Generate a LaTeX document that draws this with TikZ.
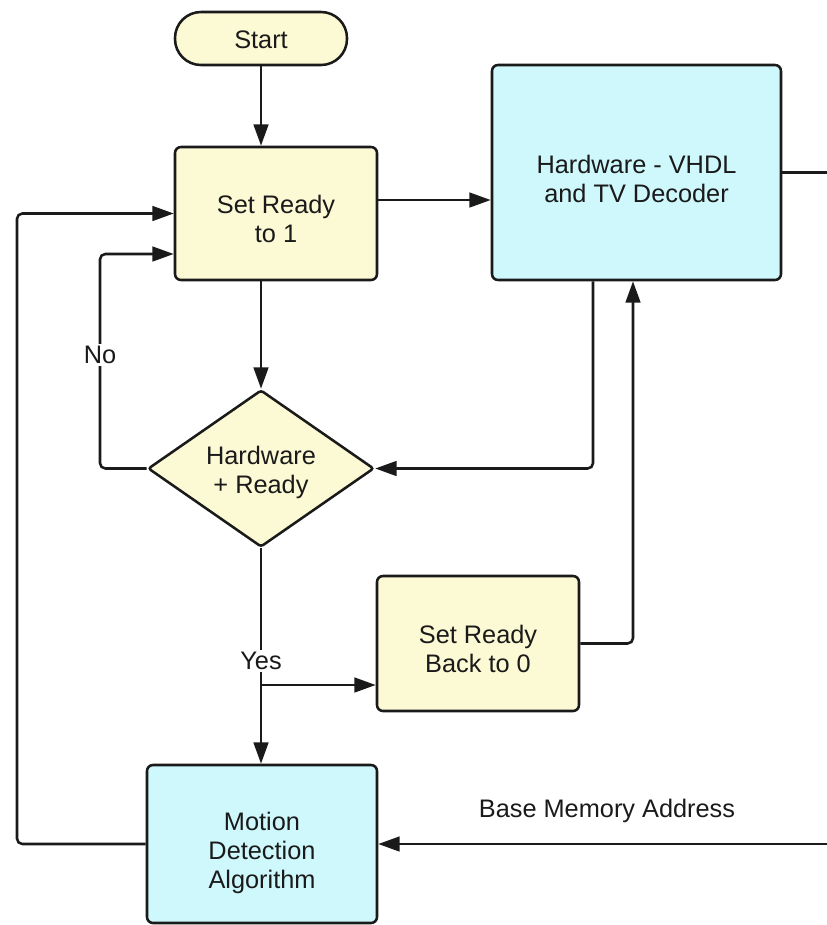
\documentclass[tikz,border=0pt]{standalone}
\usepackage{fontspec}
\setmainfont{Liberation Sans}
\usetikzlibrary{shapes.geometric,arrows.meta}
\definecolor{boxyellow}{RGB}{252,250,212}
\definecolor{boxcyan}{RGB}{206,248,252}
\definecolor{ink}{RGB}{26,26,26}

\begin{document}
\begin{tikzpicture}[x=0.75pt,y=-0.75pt,
  font=\fontsize{19}{21.75}\selectfont,
  base/.style={draw=ink, line width=1.9pt, text=ink, align=center, inner sep=0pt},
  yellowbox/.style={base, fill=boxyellow, rounded corners=4.5pt},
  cyanbox/.style={base, fill=boxcyan, rounded corners=4.5pt},
  ptext/.style={text=ink, align=center, inner sep=0pt},
  caption/.style 2 args={label={[ptext,yshift=-#1]center:{#2}}},
  flow/.style={draw=ink, line width=1.9pt, rounded corners=4pt,
    -{Triangle[length=16pt,width=11pt]}},
  plain/.style={draw=ink, line width=1.9pt, rounded corners=4pt},
  lbl/.style={fill=white, text=ink, inner sep=1.5pt}]

\useasboundingbox (0,0) rectangle (827,925);

% process blocks
\node[yellowbox, rounded corners=19.5pt, minimum width=129pt, minimum height=39.75pt,
  caption={1pt}{Start}] (start) at (261,38.5) {};
\node[yellowbox, minimum width=151.5pt, minimum height=99.75pt,
  caption={4pt}{Set Ready\\to 1}] (ready1) at (276,213.5) {};
\node[cyanbox, minimum width=216.75pt, minimum height=161.25pt,
  caption={4.5pt}{Hardware - VHDL\\and TV Decoder}] (hw) at (636.5,172.5) {};
\node[base, diamond, fill=boxyellow, aspect=1.44, rounded corners=2pt,
  minimum width=169.5pt, minimum height=117.75pt,
  caption={3pt}{Hardware\\+ Ready}] (dec) at (261,468.5) {};
\node[yellowbox, minimum width=151.5pt, minimum height=101.25pt,
  caption={4pt}{Set Ready\\Back to 0}] (back0) at (478,643.5) {};
\node[cyanbox, minimum width=172.5pt, minimum height=118.5pt,
  caption={6.5pt}{Motion\\Detection\\Algorithm}] (motion) at (262,844) {};

% off-page ends of the memory-address loop
\coordinate (hwout) at (827,172.5);
\coordinate (memin) at (827,844);

% connectors
\draw[flow] (start.south) -- (start.south |- ready1.north);
\draw[flow] (ready1.east |- 0,200) -- (hw.west |- 0,200);
\draw[plain] (hw.east) -- (hwout);
\draw[flow] (memin) -- (motion.east);
\draw[flow] (hw.south -| 593,0) |- (dec.east);
\draw[flow] (back0.east) -| (hw.south -| 633,0);
\draw[flow] (dec.north |- ready1.south) -- (dec.north);
\draw[flow] (dec.west) -| (100,254) -- (ready1.west |- 0,254);
\draw[flow] (dec.south) -- (dec.south |- motion.north);
\draw[flow] (dec.south |- 0,685) -- (back0.west |- 0,685);
\draw[flow] (motion.west) -| (17,213.5) -- (ready1.west);

% labels
\node[lbl] (nolbl) at (100,355) {No};
\node[lbl] (yeslbl) at (261,661) {Yes};
\node[text=ink] (memlbl) at (607,811) {Base Memory Address};
\end{tikzpicture}
\end{document}
